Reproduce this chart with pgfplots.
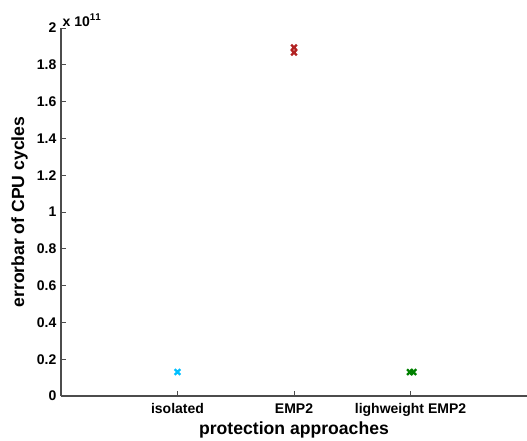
\documentclass[border=0pt]{standalone}
\usepackage{pgfplots}
\pgfplotsset{compat=1.18}
\usepackage{fontspec}
\setmainfont{Liberation Sans}
\definecolor{cyanm}{RGB}{0,191,255}
\definecolor{redm}{RGB}{178,34,34}
\definecolor{greenm}{RGB}{0,128,0}
\begin{document}
\begin{tikzpicture}
\path[use as bounding box] (0,0) rectangle (395.25pt,330.75pt);
\begin{axis}[
  at={(45.75pt,33.75pt)}, anchor=south west,
  scale only axis, width=349.5pt, height=276pt,
  xmin=0, xmax=4, ymin=0, ymax=2,
  axis lines=left,
  axis line style={-, draw=black!70, line width=0.8pt},
  xtick={1,2,3},
  xticklabels={isolated,EMP2,lighweight EMP2},
  ytick={0,0.2,0.4,0.6,0.8,1,1.2,1.4,1.6,1.8,2},
  yticklabels={0,0.2,0.4,0.6,0.8,1,1.2,1.4,1.6,1.8,2},
  tick align=inside,
  major tick length=4pt,
  tick style={draw=black!70, line width=0.6pt},
  ticklabel style={font=\fontsize{10.5}{12}\selectfont\bfseries},
  xticklabel style={yshift=-2pt},
  xlabel={protection approaches},
  ylabel={errorbar of CPU cycles},
  label style={font=\fontsize{13.2}{15}\selectfont\bfseries},
  xlabel style={yshift=3pt},
  ylabel style={yshift=0pt},
  clip=false,
]
\addplot[only marks, mark=x, mark size=3pt, line width=1.7pt, color=cyanm] coordinates {(1,0.13)};
\addplot[only marks, mark=x, mark size=3pt, line width=1.7pt, color=redm] coordinates {(2,1.894) (2,1.867)};
\addplot[only marks, mark=x, mark size=3pt, line width=1.7pt, color=greenm] coordinates {(2.995,0.13) (3.025,0.13)};
\node[anchor=south west, font=\fontsize{10.5}{12}\selectfont\bfseries, inner sep=1pt] at (rel axis cs:0,1) {x 10$^{\mathbf{11}}$};
\end{axis}
\end{tikzpicture}
\end{document}
